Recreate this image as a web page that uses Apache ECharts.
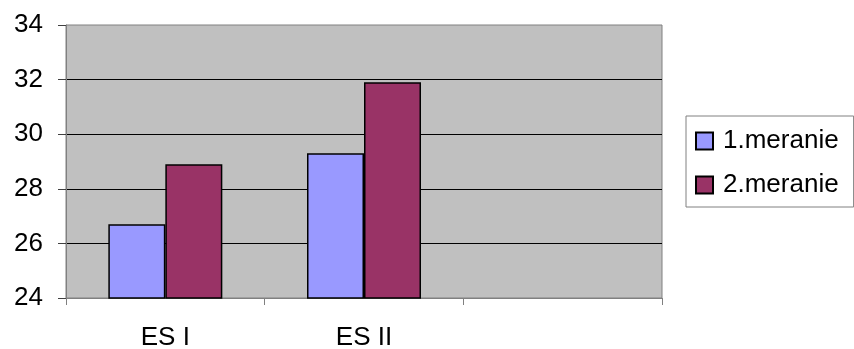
<!DOCTYPE html>
<html>
<head>
<meta charset="utf-8">
<script src="https://cdn.jsdelivr.net/npm/echarts@6/dist/echarts.min.js"></script>
<style>html,body{margin:0;padding:0;background:#fff}#c{width:854px;height:349px}</style>
</head>
<body>
<div id="c"></div>
<script>
var categories = ['ES I', 'ES II', ''];
var series1Name = '1.meranie';
var series2Name = '2.meranie';
var series1 = [26.7, 29.3, null];
var series2 = [28.9, 31.9, null];
var yTicks = { min: 24, max: 34, interval: 2 };

var chart = echarts.init(document.getElementById('c'), null, { renderer: 'canvas' });
var font = '"Liberation Sans", Arial, sans-serif';
chart.setOption({
  animation: false,
  backgroundColor: '#ffffff',
  textStyle: { fontFamily: font },
  grid: {
    left: 66, right: 192, top: 25, bottom: 51,
    outerBoundsMode: 'none', containLabel: false,
    show: true, backgroundColor: '#C0C0C0', borderColor: '#808080', borderWidth: 1
  },
  legend: {
    orient: 'vertical',
    left: 686, top: 116,
    padding: [12, 15, 9, 9],
    itemGap: 18,
    itemWidth: 17, itemHeight: 17,
    icon: 'rect',
    backgroundColor: '#ffffff',
    borderColor: '#808080', borderWidth: 1,
    textStyle: { fontFamily: font, fontSize: 26, color: '#000', lineHeight: 26, padding: [0, 0, 0, 5] },
    data: [series1Name, series2Name]
  },
  xAxis: {
    type: 'category',
    data: categories,
    boundaryGap: true,
    axisLine: { show: true, lineStyle: { color: '#808080', width: 1 } },
    axisTick: { show: true, length: 7, lineStyle: { color: '#808080' } },
    axisLabel: { fontFamily: font, fontSize: 26, color: '#000', margin: 27 },
    splitLine: { show: false }
  },
  yAxis: {
    type: 'value',
    min: yTicks.min, max: yTicks.max, interval: yTicks.interval,
    axisLine: { show: true, lineStyle: { color: '#808080', width: 1 } },
    axisTick: { show: true, length: 8, lineStyle: { color: '#404040' } },
    axisLabel: { fontFamily: font, fontSize: 26, color: '#000', margin: 23 },
    splitLine: { show: true, showMinLine: false, showMaxLine: false, lineStyle: { color: '#000', width: 1 } }
  },
  series: [
    {
      name: series1Name, type: 'bar', data: series1,
      barWidth: 57, barGap: '0%',
      itemStyle: { color: '#9999FF', borderColor: '#000', borderWidth: 1.5 }
    },
    {
      name: series2Name, type: 'bar', data: series2,
      barWidth: 57, barGap: '0%',
      itemStyle: { color: '#993366', borderColor: '#000', borderWidth: 1.5 }
    }
  ]
});
</script>
</body>
</html>
